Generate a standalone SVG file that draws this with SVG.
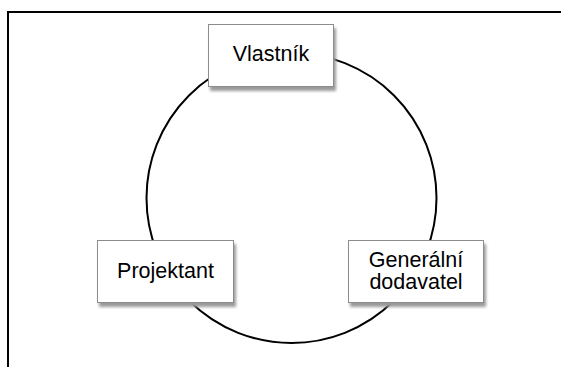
<svg xmlns="http://www.w3.org/2000/svg" width="561" height="367" viewBox="0 0 561 367">
  <defs>
    <filter id="shadow" x="-10%" y="-20%" width="120%" height="150%">
      <feGaussianBlur stdDeviation="1.6"/>
    </filter>
  </defs>
  <style>
    .frame { fill: none; stroke: #000; stroke-width: 2; }
    .ring { fill: none; stroke: #000; stroke-width: 2; }
    .box { fill: #fff; stroke: #8c8c8c; stroke-width: 1; }
    .shade { fill: #9a9a9a; filter: url(#shadow); }
    .label { font-family: "Liberation Sans", Arial, sans-serif; font-size: 21.5px; fill: #000; text-anchor: middle; }
  </style>

  <rect width="561" height="367" fill="#fff"/>
  <!-- outer frame, open to the right and bottom -->
  <path class="frame" d="M8,367 V12 H561"/>

  <g id="connectors">
    <circle class="ring" cx="291.5" cy="198" r="145"/>
  </g>

  <g id="vlastnik">
    <rect class="shade" x="210" y="28" width="126" height="63"/>
    <rect class="box" x="208.5" y="24.5" width="125" height="62"/>
    <text class="label" x="271" y="61">Vlastník</text>
  </g>

  <g id="projektant">
    <rect class="shade" x="99" y="244" width="137" height="63"/>
    <rect class="box" x="97.5" y="240.5" width="136" height="62"/>
    <text class="label" x="165.5" y="278">Projektant</text>
  </g>

  <g id="generalni-dodavatel">
    <rect class="shade" x="350" y="244" width="136" height="63"/>
    <rect class="box" x="348.5" y="240.5" width="135" height="62"/>
    <text class="label" x="416" y="267">Generální</text>
    <text class="label" x="416" y="289">dodavatel</text>
  </g>
</svg>
